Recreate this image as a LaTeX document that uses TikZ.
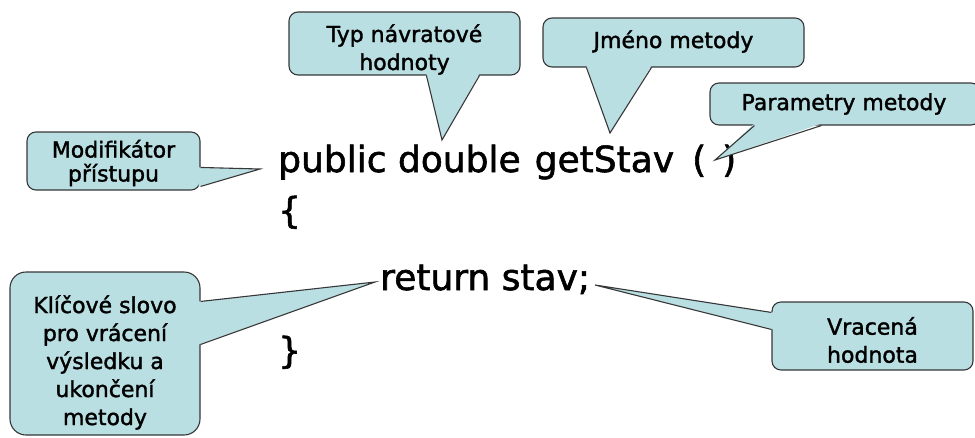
\documentclass[tikz,border=0pt]{standalone}
\usepackage{fontspec}
\setmainfont[FakeBold=1.6]{DejaVu Sans}
\usetikzlibrary{calc}

\definecolor{calloutfill}{RGB}{185,223,227}
\definecolor{calloutline}{RGB}{55,55,55}

\tikzset{
  calloutbox/.style={draw=calloutline, fill=calloutfill, line width=1.1pt,
    rounded corners=9pt, inner sep=0pt},
  callouttext/.style={align=center, inner sep=0pt,
    font=\fontsize{22}{28}\selectfont},
  pointerfill/.style={fill=calloutfill},
  pointerline/.style={draw=calloutline, line width=1.1pt, line join=miter},
  code/.style={font=\fontsize{36}{43}\selectfont, inner sep=0pt}
}

\begin{document}
\begin{tikzpicture}[x=1pt,y=-1pt]
\useasboundingbox (0,0) rectangle (975,437);

% --- code ---
\node[code, anchor=base west] (sig) at (278,172)
  {public double\hspace{14pt}getStav\hspace{18pt}(\hspace{16pt})};
\node[code, anchor=base west] (open) at (278,223) {\{};
\node[code, anchor=base west] (ret) at (380,290) {return stav;};
\node[code, anchor=base west] (close) at (278,363) {\}};

% --- pointer tips ---
\coordinate (tipTyp) at (442,140);
\coordinate (tipJmeno) at (610,133);
\coordinate (tipPar) at (715,160);
\coordinate (tipMod) at (260,169);
\coordinate (tipKlic) at (375,282);
\coordinate (tipVrac) at (595,285);

% --- Typ návratové hodnoty ---
\node[calloutbox, minimum width=231pt, minimum height=63pt] (typ) at (404.5,43.5) {};
\fill[pointerfill] ([xshift=138pt,yshift=2pt]typ.south west) -- (tipTyp)
  -- ([xshift=191pt,yshift=2pt]typ.south west) -- cycle;
\draw[pointerline] ([xshift=138pt]typ.south west) -- (tipTyp)
  -- ([xshift=191pt]typ.south west);
\node[callouttext] (typT) at ([yshift=-6pt]typ.center) {Typ návratové\\hodnoty};

% --- Jméno metody ---
\node[calloutbox, minimum width=261pt, minimum height=49pt] (jmeno) at (673.5,42.5) {};
\fill[pointerfill] ([xshift=44pt,yshift=2pt]jmeno.south west) -- (tipJmeno)
  -- ([xshift=109pt,yshift=2pt]jmeno.south west) -- cycle;
\draw[pointerline] ([xshift=44pt]jmeno.south west) -- (tipJmeno)
  -- ([xshift=109pt]jmeno.south west);
\node[callouttext] (jmenoT) at ([yshift=1pt]jmeno.center) {Jméno metody};

% --- Parametry metody ---
\node[calloutbox, minimum width=270pt, minimum height=42pt] (param) at (845,104) {};
\fill[pointerfill] ([xshift=45pt,yshift=2pt]param.south west) -- (tipPar)
  -- ([xshift=112pt,yshift=2pt]param.south west) -- cycle;
\draw[pointerline] ([xshift=45pt]param.south west) -- (tipPar)
  -- ([xshift=112pt]param.south west);
\node[callouttext] (paramT) at ([xshift=-1pt]param.center) {Parametry metody};

% --- Modifikátor přístupu ---
\node[calloutbox, minimum width=173pt, minimum height=58pt] (modif) at (113.5,161) {};
\fill[pointerfill] ([xshift=-2pt,yshift=-36pt]modif.north east) -- (tipMod)
  -- ([xshift=-2pt,yshift=-55pt]modif.north east) -- cycle;
\draw[pointerline] ([yshift=-36pt]modif.north east) -- (tipMod)
  -- ([yshift=-55pt]modif.north east);
\node[callouttext, font=\fontsize{22}{24}\selectfont] (modifT) at ([yshift=-2pt]modif.center)
  {Modifikátor\\přístupu};

% --- Klíčové slovo ---
\node[calloutbox, rounded corners=16pt, minimum width=190pt, minimum height=163pt]
  (klic) at (105,353.5) {};
\fill[pointerfill] ([xshift=-2pt,yshift=-30pt]klic.north east) -- (tipKlic)
  -- ([xshift=-2pt,yshift=-73pt]klic.north east) -- cycle;
\draw[pointerline] ([yshift=-30pt]klic.north east) -- (tipKlic)
  -- ([yshift=-73pt]klic.north east);
\node[callouttext] (klicT) at ([yshift=-9pt]klic.center)
  {Klíčové slovo\\pro vrácení\\výsledku a\\ukončení\\metody};

% --- Vracená hodnota ---
\node[calloutbox, minimum width=201pt, minimum height=68pt] (vrac) at (872.5,336) {};
\fill[pointerfill] ([xshift=2pt,yshift=-11pt]vrac.north west) -- (tipVrac)
  -- ([xshift=2pt,yshift=-28pt]vrac.north west) -- cycle;
\draw[pointerline] ([yshift=-11pt]vrac.north west) -- (tipVrac)
  -- ([yshift=-28pt]vrac.north west);
\node[callouttext] (vracT) at ([yshift=-4pt]vrac.center) {Vracená\\hodnota};

\end{tikzpicture}
\end{document}
